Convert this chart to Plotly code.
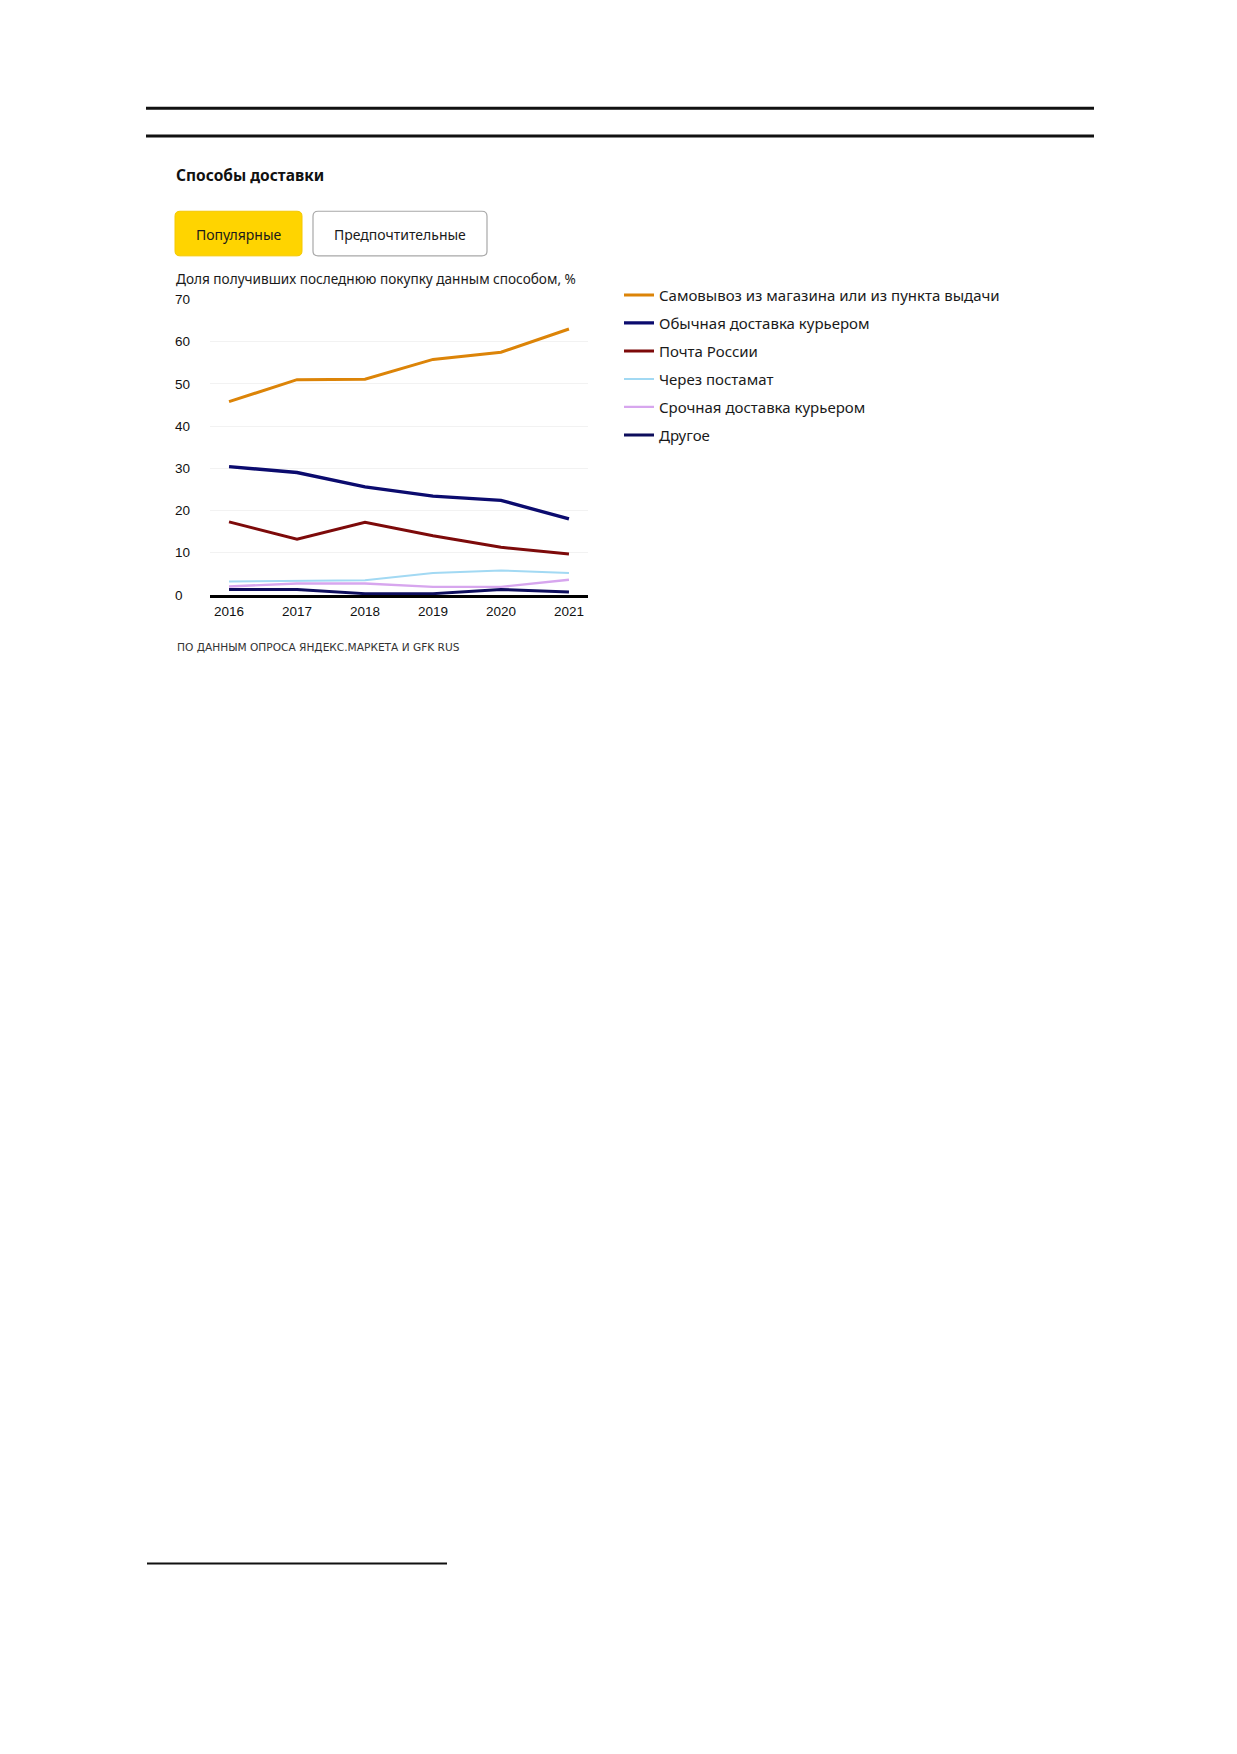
import plotly.graph_objects as go

W, H = 1237, 1754

# data
years = [2016, 2017, 2018, 2019, 2020, 2021]
pickup = [45.8, 51.0, 51.1, 55.8, 57.5, 63.0]
courier = [30.4, 29.0, 25.6, 23.4, 22.4, 18.0]
post_russia = [17.3, 13.2, 17.2, 14.0, 11.3, 9.7]
parcel_locker = [3.2, 3.3, 3.5, 5.2, 5.8, 5.2]
express_courier = [2.0, 2.7, 2.7, 1.9, 1.9, 3.6]
other = [1.3, 1.3, 0.3, 0.3, 1.3, 0.7]

names = ["Самовывоз из магазина или из пункта выдачи", "Обычная доставка курьером",
         "Почта России", "Через постамат", "Срочная доставка курьером", "Другое"]
colors = ["#DC8408", "#0B0B6E", "#7D0A0A", "#A2D9F3", "#D7A6EE", "#0D0D5C"]
widths = [3, 3.4, 3, 2, 2.4, 3]
y_ticks = [0, 10, 20, 30, 40, 50, 60, 70]


def px_x(x):
    return x / W


def px_y(y):
    return 1 - y / H


def rounded(x0, y0, x1, y1, r):
    # rounded rectangle in paper coords, given pixel corners
    X = lambda v: px_x(v)
    Y = lambda v: px_y(v)
    return (f"M {X(x0 + r)},{Y(y0)} L {X(x1 - r)},{Y(y0)} Q {X(x1)},{Y(y0)} {X(x1)},{Y(y0 + r)} "
            f"L {X(x1)},{Y(y1 - r)} Q {X(x1)},{Y(y1)} {X(x1 - r)},{Y(y1)} "
            f"L {X(x0 + r)},{Y(y1)} Q {X(x0)},{Y(y1)} {X(x0)},{Y(y1 - r)} "
            f"L {X(x0)},{Y(y0 + r)} Q {X(x0)},{Y(y0)} {X(x0 + r)},{Y(y0)} Z")


fig = go.Figure()
series = [pickup, courier, post_russia, parcel_locker, express_courier, other]
for name, vals, c, w in zip(names, series, colors, widths):
    fig.add_trace(go.Scatter(x=years, y=vals, name=name, mode="lines",
                             line=dict(color=c, width=w), legendgroup=name))

tick_font = dict(family="Liberation Sans, Arial", size=13.5, color="#111")
fig.update_xaxes(domain=[px_x(210), px_x(588)], range=[2015.72, 2021.28],
                 tickvals=years, ticktext=[str(y) for y in years], tickfont=tick_font,
                 showgrid=False, zeroline=False, showline=True, linecolor="#000",
                 linewidth=2.5, ticks="", ticklabelstandoff=2)
# labels padded with figure spaces so they line up on the left like the original
fig.update_yaxes(domain=[px_y(593), px_y(295)], range=[0, 70], tickvals=y_ticks,
                 ticktext=[str(v).ljust(2, "\u2007") for v in y_ticks],
                 tickfont=tick_font, showgrid=True, gridcolor="#f2f2f2", gridwidth=1,
                 zeroline=False, showline=False, ticks="", ticklabelstandoff=19)

shapes = [
    dict(type="line", xref="paper", yref="paper", x0=px_x(146), x1=px_x(1094),
         y0=px_y(102), y1=px_y(102), line=dict(color="#111", width=3)),
    dict(type="line", xref="paper", yref="paper", x0=px_x(146), x1=px_x(1094),
         y0=px_y(130), y1=px_y(130), line=dict(color="#111", width=3)),
    dict(type="line", xref="paper", yref="paper", x0=px_x(147), x1=px_x(447),
         y0=px_y(1570), y1=px_y(1570), line=dict(color="#111", width=2)),
    dict(type="path", xref="paper", yref="paper", path=rounded(175, 206, 302, 251, 5),
         fillcolor="#FFD400", line=dict(color="#F5C800", width=1)),
    dict(type="path", xref="paper", yref="paper", path=rounded(313, 206, 487, 251, 5),
         fillcolor="#ffffff", line=dict(color="#a8a8a8", width=1.2)),
]

text_font = "Noto Sans, Open Sans, sans-serif"
annotations = [
    dict(text="<b>Способы доставки</b>", x=px_x(174), y=px_y(169), xanchor="left",
         yanchor="middle", font=dict(family=text_font, size=15.5, color="#111")),
    dict(text="Популярные", x=px_x(238.5), y=px_y(229), xanchor="center", yanchor="middle",
         font=dict(family=text_font, size=14, color="#1a1a1a")),
    dict(text="Предпочтительные", x=px_x(400), y=px_y(229), xanchor="center",
         yanchor="middle", font=dict(family=text_font, size=14, color="#1a1a1a")),
    dict(text="Доля получивших последнюю покупку данным способом, %", x=px_x(174),
         y=px_y(274), xanchor="left", yanchor="middle",
         font=dict(family=text_font, size=13.6, color="#1a1a1a")),
    dict(text="ПО ДАННЫМ ОПРОСА ЯНДЕКС.МАРКЕТА И GFK RUS", x=px_x(175), y=px_y(646),
         xanchor="left", yanchor="middle",
         font=dict(family="DejaVu Sans, sans-serif", size=10.6, color="#333")),
]
for a in annotations:
    a.update(xref="paper", yref="paper", showarrow=False)

fig.update_layout(
    width=W, height=H, margin=dict(l=0, r=0, t=0, b=0),
    paper_bgcolor="#ffffff", plot_bgcolor="#ffffff",
    shapes=shapes, annotations=annotations,
    legend=dict(x=px_x(619), y=px_y(274), xanchor="left", yanchor="top",
                font=dict(family=text_font, size=15, color="#1a1a1a"),
                traceorder="grouped", tracegroupgap=5.5, itemwidth=30,
                bgcolor="rgba(0,0,0,0)"),
)

# pin the figure to the window's top-left corner
pin = ("document.body.style.margin='0';"
       "var d=document.getElementById('{plot_id}');"
       "d.style.position='absolute';d.style.top='0';d.style.left='0';")
fig.write_html("out.html", post_script=pin, config={"displayModeBar": False})
